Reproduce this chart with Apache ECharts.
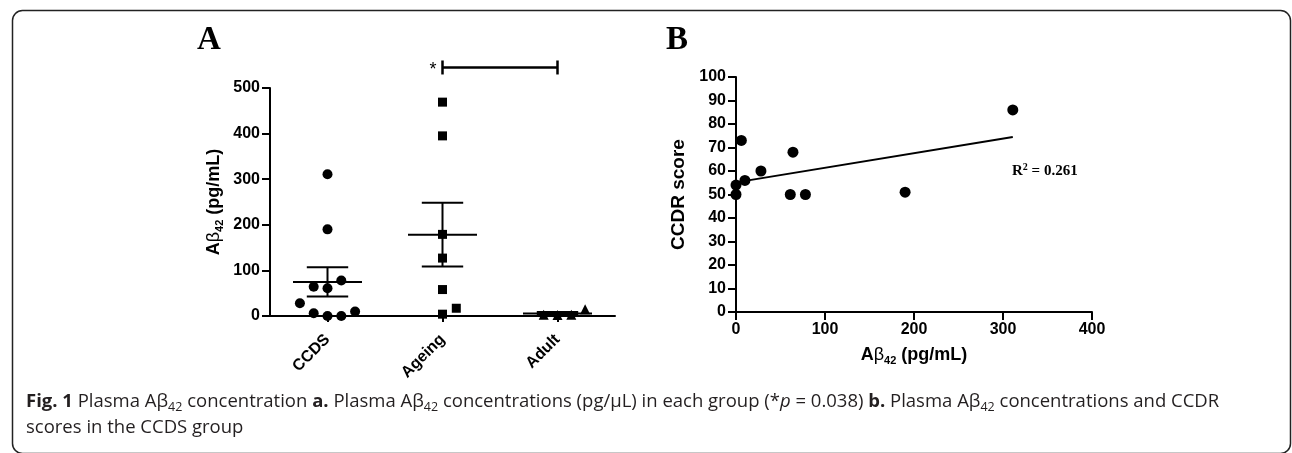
<!DOCTYPE html>
<html>
<head>
<meta charset="utf-8">
<title>Plasma Abeta42</title>
<script src="https://cdn.jsdelivr.net/npm/echarts@6.0.0/dist/echarts.min.js"></script>
<style>
  html, body { margin: 0; padding: 0; background: #fff; }
  #main { width: 1292px; height: 453px; }
</style>
</head>
<body>
<div id="main"></div>
<script>
// panel A: groups and Abeta42 values (pg/mL), lanes = side-by-side slot of each dot
var groups = ['CCDS', 'Ageing', 'Adult'];
var ccdsAb = [311, 190, 78, 64, 61, 28, 6, 0, 0, 10];
var ccdsLane = [0, 0, 1, -1, 0, -2, -1, 0, 1, 2];
var ageingAb = [469, 395, 179, 127, 58, 4, 17];
var ageingLane = [0, 0, 0, 0, 0, 0, 1];
var adultAb = [3, 2, 3, 15];
var adultLane = [-1, 0, 1, 2];
var yTicksA = [0, 100, 200, 300, 400, 500];

// panel B: CCDR score of each CCDS subject (same order as ccdsAb)
var ccdrScore = [86, 51, 50, 68, 50, 60, 73, 54, 50, 56];
var r2Text = '0.261';
var pText = '0.038';

var axisFont = 'Liberation Sans, Arial, sans-serif';
var serifFont = 'Liberation Serif, Times New Roman, serif';
var capFont = 'Open Sans, Noto Sans, sans-serif';

function mean(a) {
    var s = 0;
    for (var i = 0; i < a.length; i++) s += a[i];
    return s / a.length;
}
function sem(a) {
    var m = mean(a), s = 0;
    for (var i = 0; i < a.length; i++) s += (a[i] - m) * (a[i] - m);
    return Math.sqrt(s / (a.length - 1)) / Math.sqrt(a.length);
}
function dots(vals, lanes, pos) {
    return vals.map(function (v, i) { return [pos + lanes[i] * 0.12, v]; });
}

var groupVals = [ccdsAb, ageingAb, adultAb];
var barData = groupVals.map(function (g, i) {
    var m = mean(g), e = sem(g);
    return [i + 1, m, m - e, m + e];
});

// least squares fit for panel B
var mx = mean(ccdsAb), my = mean(ccdrScore), sxy = 0, sxx = 0;
for (var i = 0; i < ccdsAb.length; i++) {
    sxy += (ccdsAb[i] - mx) * (ccdrScore[i] - my);
    sxx += (ccdsAb[i] - mx) * (ccdsAb[i] - mx);
}
var slope = sxy / sxx, icpt = my - slope * mx;
var xMaxB = Math.max.apply(null, ccdsAb);
var fitLine = [[0, icpt], [xMaxB, icpt + slope * xMaxB]];
var pointsB = ccdsAb.map(function (v, i) { return [v, ccdrScore[i]]; });

var myChart = echarts.init(document.getElementById('main'));

var nameRich = {
    a: { fontFamily: axisFont, fontSize: 18, fontWeight: 'bold', color: '#000', lineHeight: 22 },
    b: { fontFamily: axisFont, fontSize: 18, color: '#000', lineHeight: 22 },
    s: { fontFamily: axisFont, fontSize: 11, fontWeight: 'bold', color: '#000', lineHeight: 12, verticalAlign: 'bottom' },
    c: { fontFamily: axisFont, fontSize: 18, fontWeight: 'bold', color: '#000', lineHeight: 22 }
};
var abName = '{a|A}{b|β}{s|42}{c| (pg/mL)}';

var blackLine = { lineStyle: { color: '#000', width: 2 } };
var dotStyle = { color: '#000', opacity: 1 };

var option = {
    animation: false,
    backgroundColor: '#fff',
    grid: [
        { left: 270, top: 88, width: 345, height: 228 },
        { left: 736, top: 77, width: 356, height: 235 }
    ],
    xAxis: [
        {
            gridIndex: 0,
            type: 'category',
            data: groups,
            boundaryGap: true,
            axisLine: blackLine,
            axisTick: { show: true, alignWithLabel: true, length: 6, lineStyle: { color: '#000', width: 2 } },
            axisLabel: {
                rotate: 45, margin: 21, color: '#000',
                fontFamily: axisFont, fontSize: 16, fontWeight: 'bold'
            },
            splitLine: { show: false }
        },
        {
            gridIndex: 0,
            type: 'value',
            min: 0.5,
            max: 3.5,
            show: false
        },
        {
            gridIndex: 1,
            type: 'value',
            min: 0,
            max: 400,
            interval: 100,
            name: abName,
            nameLocation: 'middle',
            nameGap: 32,
            nameTextStyle: { rich: nameRich },
            axisLine: blackLine,
            axisTick: { show: true, length: 8, lineStyle: { color: '#000', width: 2 } },
            axisLabel: { margin: 10, color: '#000', fontFamily: axisFont, fontSize: 16, fontWeight: 'bold' },
            splitLine: { show: false }
        }
    ],
    yAxis: [
        {
            gridIndex: 0,
            type: 'value',
            min: 0,
            max: 500,
            interval: 100,
            name: abName,
            nameLocation: 'middle',
            nameGap: 45,
            nameRotate: 90,
            nameTextStyle: { rich: nameRich },
            axisLine: blackLine,
            axisTick: { show: true, length: 8, lineStyle: { color: '#000', width: 2 } },
            axisLabel: {
                margin: 10, color: '#000', fontFamily: axisFont, fontSize: 16, fontWeight: 'bold',
                formatter: function (v) { return yTicksA.indexOf(v) >= 0 ? String(v) : ''; }
            },
            splitLine: { show: false }
        },
        {
            gridIndex: 1,
            type: 'value',
            min: 0,
            max: 100,
            interval: 10,
            name: 'CCDR score',
            nameLocation: 'middle',
            nameGap: 48,
            nameRotate: 90,
            nameTextStyle: { color: '#000', fontFamily: axisFont, fontSize: 19, fontWeight: 'bold' },
            axisLine: blackLine,
            axisTick: { show: true, length: 8, lineStyle: { color: '#000', width: 2 } },
            axisLabel: { margin: 10, color: '#000', fontFamily: axisFont, fontSize: 16, fontWeight: 'bold' },
            splitLine: { show: false }
        }
    ],
    series: [
        {
            name: 'CCDS', type: 'scatter', xAxisIndex: 1, yAxisIndex: 0,
            symbol: 'circle', symbolSize: 10, itemStyle: dotStyle,
            data: dots(ccdsAb, ccdsLane, 1), z: 3
        },
        {
            name: 'Ageing', type: 'scatter', xAxisIndex: 1, yAxisIndex: 0,
            symbol: 'rect', symbolSize: 9, itemStyle: dotStyle,
            data: dots(ageingAb, ageingLane, 2), z: 3
        },
        {
            name: 'Adult', type: 'scatter', xAxisIndex: 1, yAxisIndex: 0,
            symbol: 'triangle', symbolSize: 10, itemStyle: dotStyle,
            data: dots(adultAb, adultLane, 3), z: 3
        },
        {
            // mean +/- SEM
            name: 'meanSem', type: 'custom', xAxisIndex: 1, yAxisIndex: 0,
            data: barData, z: 4,
            renderItem: function (params, api) {
                var x = api.value(0);
                var m = api.coord([x, api.value(1)]);
                var lo = api.coord([x, api.value(2)]);
                var hi = api.coord([x, api.value(3)]);
                var half = api.size([0.3, 0])[0];
                var cap = api.size([0.18, 0])[0];
                var st = { stroke: '#000', lineWidth: 2 };
                return {
                    type: 'group',
                    children: [
                        { type: 'line', shape: { x1: m[0] - half, y1: m[1], x2: m[0] + half, y2: m[1] }, style: st },
                        { type: 'line', shape: { x1: lo[0], y1: lo[1], x2: hi[0], y2: hi[1] }, style: st },
                        { type: 'line', shape: { x1: hi[0] - cap, y1: hi[1], x2: hi[0] + cap, y2: hi[1] }, style: st },
                        { type: 'line', shape: { x1: lo[0] - cap, y1: lo[1], x2: lo[0] + cap, y2: lo[1] }, style: st }
                    ]
                };
            }
        },
        {
            // significance bracket Ageing vs Adult
            name: 'sig', type: 'custom', xAxisIndex: 1, yAxisIndex: 0,
            clip: false, z: 4,
            data: [[2, 3, 545]],
            renderItem: function (params, api) {
                var a = api.coord([api.value(0), api.value(2)]);
                var b = api.coord([api.value(1), api.value(2)]);
                var st = { stroke: '#000', lineWidth: 2.5 };
                return {
                    type: 'group',
                    children: [
                        { type: 'line', shape: { x1: a[0], y1: a[1], x2: b[0], y2: b[1] }, style: st },
                        { type: 'line', shape: { x1: a[0], y1: a[1] - 7, x2: a[0], y2: a[1] + 7 }, style: st },
                        { type: 'line', shape: { x1: b[0], y1: b[1] - 7, x2: b[0], y2: b[1] + 7 }, style: st },
                        { type: 'text', x: a[0] - 6, y: a[1] + 3, style: { text: '*', fill: '#000', font: '18px ' + axisFont, align: 'right', verticalAlign: 'middle' } }
                    ]
                };
            }
        },
        {
            name: 'CCDR', type: 'scatter', xAxisIndex: 2, yAxisIndex: 1,
            symbol: 'circle', symbolSize: 11, itemStyle: dotStyle,
            data: pointsB, z: 3
        },
        {
            name: 'fit', type: 'line', xAxisIndex: 2, yAxisIndex: 1,
            data: fitLine, symbol: 'none', z: 2,
            lineStyle: { color: '#000', width: 2 }
        }
    ],
    graphic: [
        {
            type: 'rect', left: 10, top: 8, z: 0,
            shape: { width: 1278, height: 443, r: 10 },
            style: { fill: 'none', stroke: '#222', lineWidth: 1.5 }
        },
        {
            type: 'text', left: 197, top: 24,
            style: { text: 'A', font: 'bold 33px ' + serifFont, fill: '#000' }
        },
        {
            type: 'text', left: 666, top: 24,
            style: { text: 'B', font: 'bold 33px ' + serifFont, fill: '#000' }
        },
        {
            type: 'text', left: 1012, top: 162,
            style: {
                text: '{r|R}{p|2}{r| = ' + r2Text + '}',
                rich: {
                    r: { fontFamily: serifFont, fontSize: 15, fontWeight: 'bold', fill: '#000', lineHeight: 18 },
                    p: { fontFamily: serifFont, fontSize: 10, fontWeight: 'bold', fill: '#000', lineHeight: 10, verticalAlign: 'top' }
                }
            }
        },
        {
            type: 'text', left: 26, top: 392,
            style: {
                text: '{f|Fig. 1}{t| Plasma Aβ}{s|42}{t| concentration }{f|a.}{t| Plasma Aβ}{s|42}{t| concentrations (pg/μL) in each group (*}{i|p}{t| = ' + pText + ') }{f|b.}{t| Plasma Aβ}{s|42}{t| concentrations and CCDR}',
                rich: {
                    f: { fontFamily: capFont, fontSize: 18.5, fontWeight: 'bold', fill: '#231f20', lineHeight: 24 },
                    t: { fontFamily: capFont, fontSize: 18.5, fill: '#231f20', lineHeight: 24 },
                    i: { fontFamily: capFont, fontSize: 18.5, fontStyle: 'italic', fill: '#231f20', lineHeight: 24 },
                    s: { fontFamily: capFont, fontSize: 12.5, fill: '#231f20', lineHeight: 14, verticalAlign: 'bottom' }
                }
            }
        },
        {
            type: 'text', left: 26, top: 418,
            style: { text: 'scores in the CCDS group', font: '18.5px ' + capFont, fill: '#231f20' }
        }
    ]
};

myChart.setOption(option);

window.addEventListener('resize', function () {
    myChart.resize();
});
</script>
</body>
</html>
